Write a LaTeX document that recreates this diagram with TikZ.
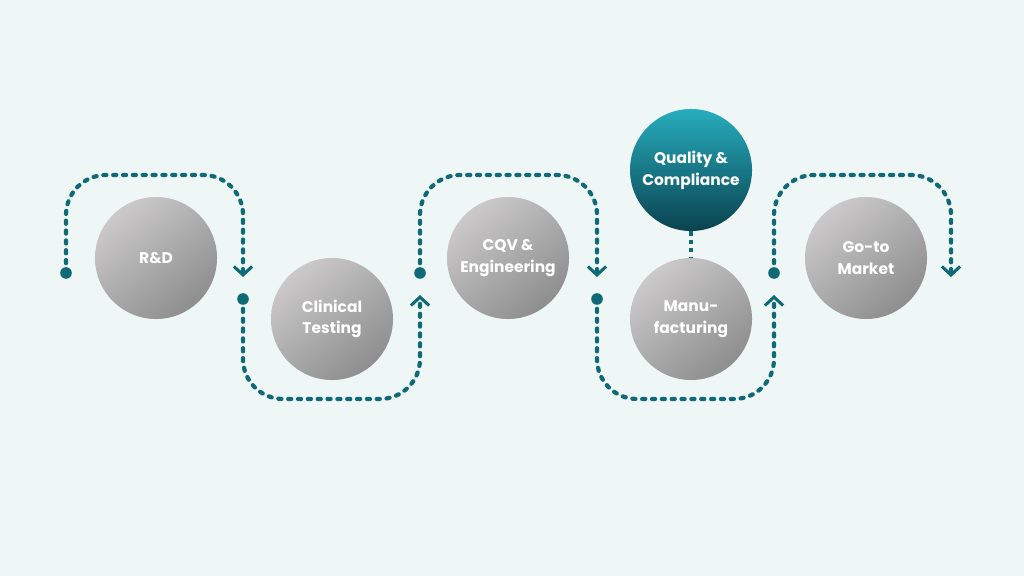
\documentclass[tikz,border=0pt]{standalone}
\usepackage{fontspec}
\setmainfont{Poppins}
\usepackage{tikz}
\usetikzlibrary{
  arrows.meta,
  calc
}
\definecolor{bgmint}{HTML}{EFF7F6}
\definecolor{flowteal}{HTML}{0F6977}
\definecolor{grayhi}{HTML}{CBC9C9}
\definecolor{graylo}{HTML}{8E8E8E}
\definecolor{tealhi}{HTML}{27ADBD}
\definecolor{teallo}{HTML}{0A4250}
\tikzset{
  phase circle/.style={circle,minimum size=3.05cm,inner sep=0pt,
    top color=grayhi,bottom color=graylo,shading angle=40,
    text=white,align=center,font=\fontsize{11}{15.5}\selectfont\bfseries},
  quality circle/.style={phase circle,top color=tealhi,bottom color=teallo,shading angle=0},
  flow path/.style={draw=flowteal,line width=3pt,line cap=round,
    dash pattern=on 2.2pt off 4.8pt,rounded corners=1cm,
    -{Straight Barb[length=6pt,width=13pt,line width=2.2pt]}},
  path dot/.style={circle,fill=flowteal,inner sep=0pt,minimum size=0.29cm},
}

\begin{document}
\begin{tikzpicture}[x=0.025cm,y=-0.025cm]
\fill[bgmint] (0,0) rectangle (1024,576);
\useasboundingbox (0,0) rectangle (1024,576);

% phases
\node[phase circle] (rd) at (156,258) {R\&D};
\node[phase circle] (clin) at (332,319) {Clinical\\Testing};
\node[phase circle] (cqv) at (508,258) {CQV \&\\Engineering};
\node[phase circle] (manu) at (691,319) {Manu-\\facturing};
\node[quality circle] (qual) at (691,170) {Quality \&\\Compliance};
\node[phase circle] (gtm) at (866,258) {Go-to\\Market};

% start dots and arrow ends
\node[path dot] (s1) at (66,273) {};
\coordinate (e1) at (243,277);
\node[path dot] (s2) at (243,299) {};
\coordinate (e2) at (420,295);
\node[path dot] (s3) at (420,273) {};
\coordinate (e3) at (597,277);
\node[path dot] (s4) at (597,299) {};
\coordinate (e4) at (774,295);
\node[path dot] (s5) at (774,273) {};
\coordinate (e5) at (951,277);

\draw[flow path] (s1.center) -- ++(0,-98) -| (e1);
\draw[flow path] (s2.center) -- ++(0,100) -| (e2);
\draw[flow path] (s3.center) -- ++(0,-98) -| (e3);
\draw[flow path] (s4.center) -- ++(0,100) -| (e4);
\draw[flow path] (s5.center) -- ++(0,-98) -| (e5);

\draw[flowteal,line width=3pt,dash pattern=on 3pt off 3pt] (qual) -- (manu);
\end{tikzpicture}
\end{document}
